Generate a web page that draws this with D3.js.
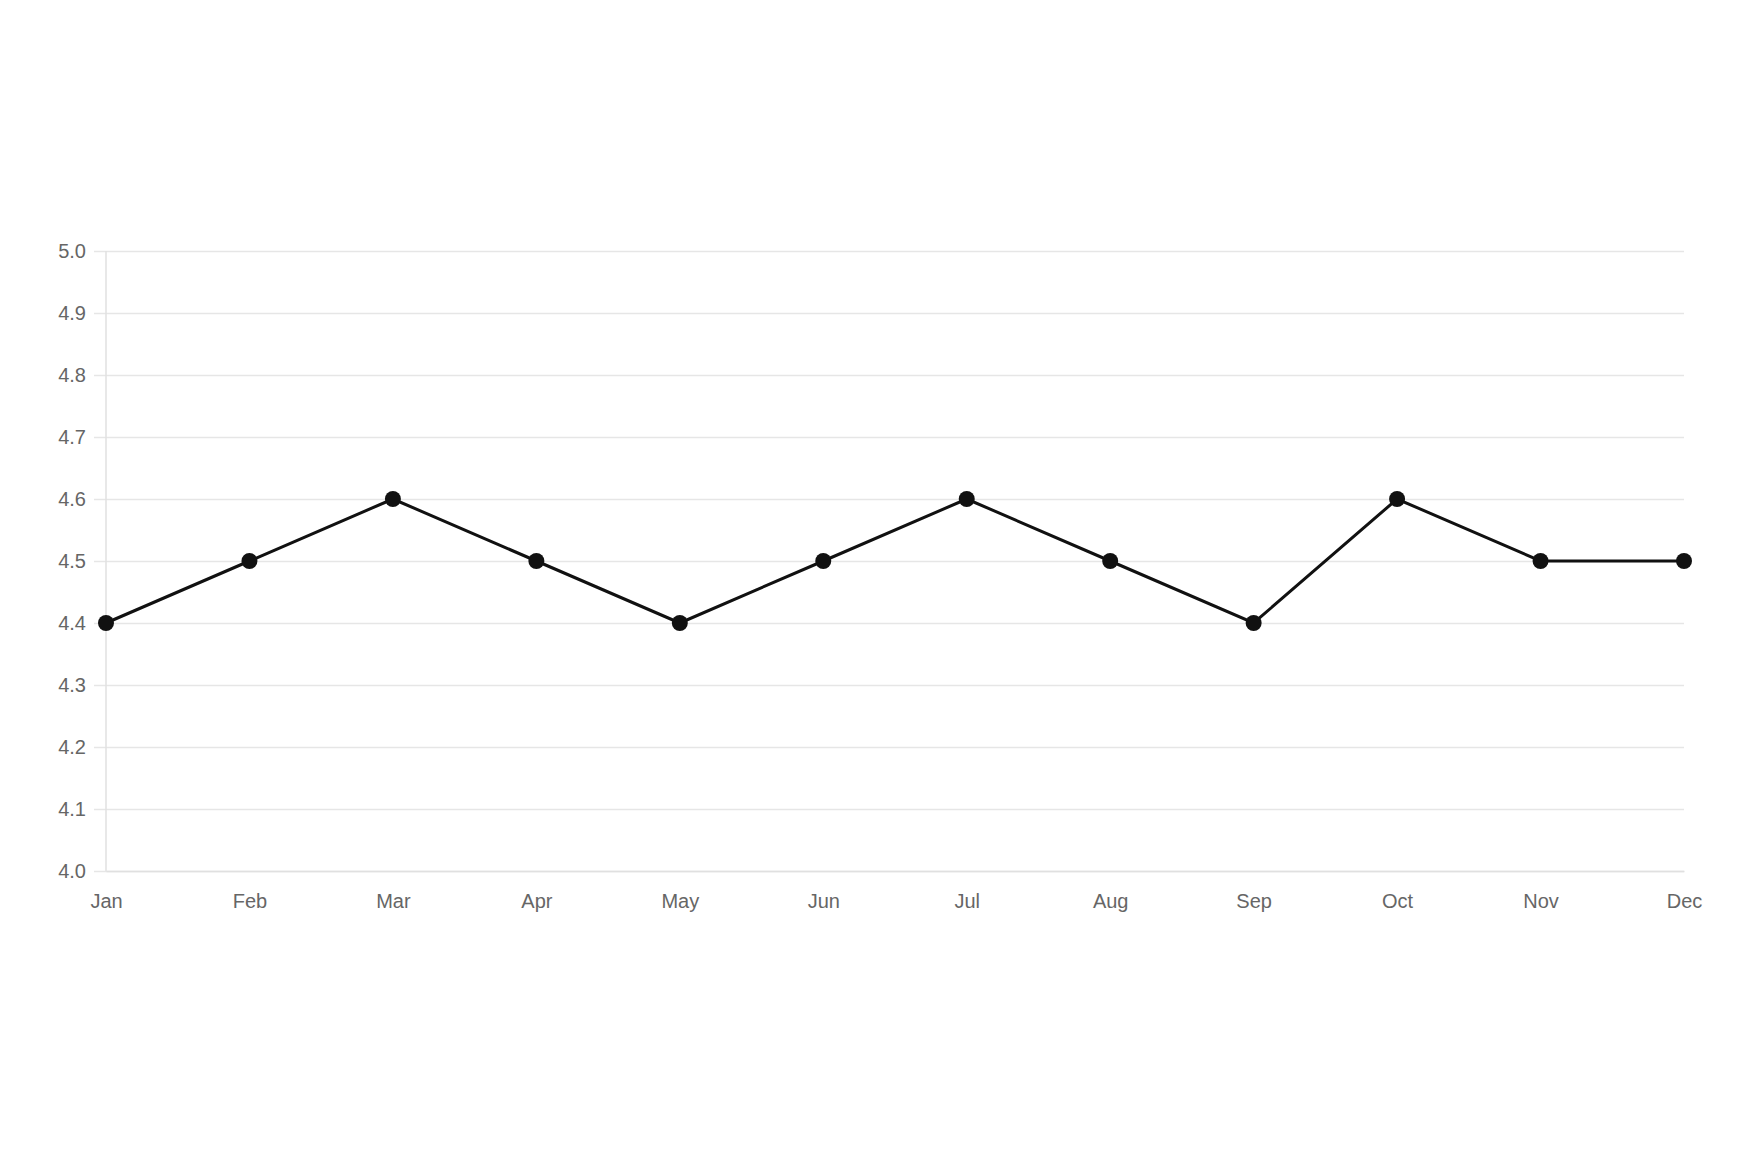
<!DOCTYPE html>
<html>
<head>
<meta charset="utf-8">
<script src="https://cdn.jsdelivr.net/npm/d3@7"></script>
<style>
  html, body { margin: 0; padding: 0; background: #fff; }
  #chart { width: 1759px; height: 1163px; }
  .tick text { font-family: "Liberation Sans", Arial, sans-serif; font-size: 20px; fill: #666; }
</style>
</head>
<body>
<div id="chart"></div>
<script>
const months = ["Jan", "Feb", "Mar", "Apr", "May", "Jun", "Jul", "Aug", "Sep", "Oct", "Nov", "Dec"];
const values = [4.4, 4.5, 4.6, 4.5, 4.4, 4.5, 4.6, 4.5, 4.4, 4.6, 4.5, 4.5];
const yTicks = [4.0, 4.1, 4.2, 4.3, 4.4, 4.5, 4.6, 4.7, 4.8, 4.9, 5.0];

const width = 1759;
const height = 1163;
const margin = {top: 251, right: 75, bottom: 292, left: 106};

const svg = d3.select("#chart")
    .append("svg")
    .attr("width", width)
    .attr("height", height);

const x = d3.scalePoint()
    .domain(months)
    .range([margin.left, width - margin.right]);

const y = d3.scaleLinear()
    .domain([4.0, 5.0])
    .range([height - margin.bottom, margin.top]);

// horizontal grid + y labels
const yAxis = svg.append("g")
    .attr("transform", `translate(${margin.left},0)`)
    .call(d3.axisLeft(y)
        .tickValues(yTicks)
        .tickFormat(d3.format(".1f"))
        .tickSize(12)
        .tickPadding(8));
yAxis.select(".domain").remove();
yAxis.selectAll(".tick line")
    .attr("x2", width - margin.right - margin.left)
    .attr("x1", -12)
    .attr("stroke", "#e6e6e6")
    .attr("stroke-width", 1.5);

// vertical axis line
svg.append("line")
    .attr("x1", margin.left).attr("x2", margin.left)
    .attr("y1", margin.top).attr("y2", height - margin.bottom)
    .attr("stroke", "#e0e0e0")
    .attr("stroke-width", 1.5);

// x labels
const xAxis = svg.append("g")
    .attr("transform", `translate(0,${height - margin.bottom})`)
    .call(d3.axisBottom(x).tickSize(0).tickPadding(23));
xAxis.select(".domain")
    .attr("stroke", "#e0e0e0")
    .attr("stroke-width", 1.5);

const line = d3.line()
    .x((d, i) => x(months[i]))
    .y(d => y(d));

svg.append("path")
    .datum(values)
    .attr("fill", "none")
    .attr("stroke", "#111")
    .attr("stroke-width", 3)
    .attr("d", line);

svg.selectAll("circle.pt")
    .data(values)
    .enter()
    .append("circle")
    .attr("class", "pt")
    .attr("cx", (d, i) => x(months[i]))
    .attr("cy", d => y(d))
    .attr("r", 8)
    .attr("fill", "#111");
</script>
</body>
</html>
